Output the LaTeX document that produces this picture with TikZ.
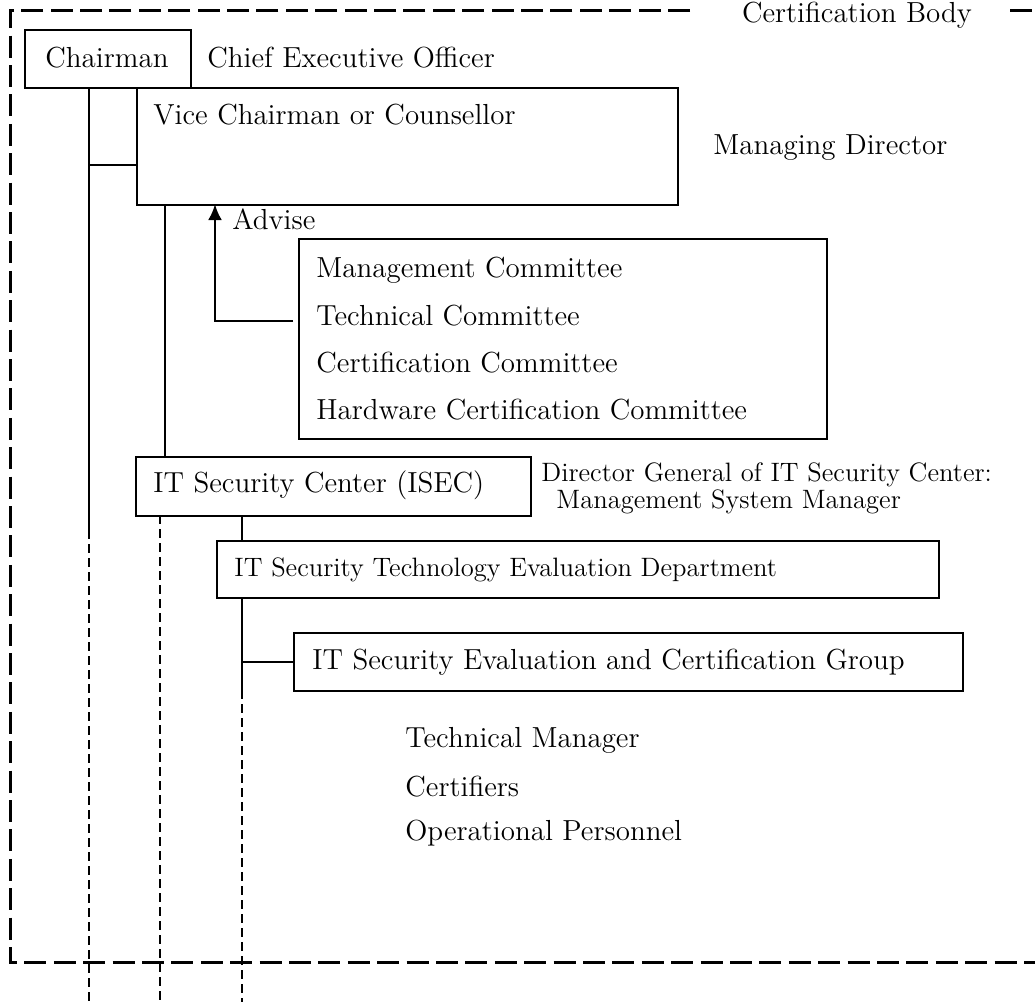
\documentclass[tikz,border=0pt]{standalone}
\usetikzlibrary{arrows.meta}
\begin{document}
\begin{tikzpicture}[x=0.5pt,y=-0.5pt,
  box/.style={draw,line width=1pt,anchor=north west,inner sep=0pt},
  txt/.style={anchor=west,inner sep=0pt,font=\fontsize{14.5}{16}\selectfont},
  smalltxt/.style={anchor=west,inner sep=0pt,font=\fontsize{13.3}{14}\selectfont},
  conn/.style={line width=1pt},
  vdash/.style={line width=1pt,dash pattern=on 4.5pt off 2.5pt},
  border/.style={line width=1.5pt,dash pattern=on 11pt off 3.7pt}]
\useasboundingbox (0,0) rectangle (1035,1002);
% border
\coordinate (b1) at (690,10);
\coordinate (b2) at (10,10);
\coordinate (b3) at (10,962);
\coordinate (b4) at (1035,962);
\coordinate (b5) at (1010,10);
\coordinate (b6) at (1035,10);
\draw[border] (b1) -- (b2) -- (b3) -- (b4);
\draw[border] (b5) -- (b6);
\node[txt,anchor=center] (certbody) at (857,15) {Certification Body};
% boxes
\node[box,minimum width=83pt,minimum height=29pt] (chair) at (24,29) {};
\node[txt,anchor=center] (chairt) at (107,58) {Chairman};
\node[txt] (ceo) at (207,58) {Chief Executive Officer};
\node[box,minimum width=270.5pt,minimum height=58.5pt] (vice) at (136,87) {};
\node[txt] (vicet) at (153,115) {Vice Chairman or Counsellor};
\node[txt] (md) at (713,148) {Managing Director};
\node[box,minimum width=264pt,minimum height=100pt] (comm) at (298,238) {};
\node[txt] (c1) at (316,270) {Management Committee};
\node[txt] (c2) at (316,316) {Technical Committee};
\node[txt] (c3) at (316,363) {Certification Committee};
\node[txt] (c4) at (316,410) {Hardware Certification Committee};
\node[box,minimum width=197.5pt,minimum height=29.5pt] (isec) at (135,456) {};
\node[txt] (isect) at (153,485) {IT Security Center (ISEC)};
\node[smalltxt] (dg) at (541,475) {Director General of IT Security Center:};
\node[smalltxt] (msm) at (556,502) {Management System Manager};
\node[box,minimum width=361pt,minimum height=28.5pt] (dept) at (216,540) {};
\node[smalltxt] (deptt) at (234,570) {IT Security Technology Evaluation Department};
\node[box,minimum width=334.5pt,minimum height=29pt] (grp) at (293,632) {};
\node[txt] (grpt) at (312,662) {IT Security Evaluation and Certification Group};
\node[txt] (tm) at (405,740) {Technical Manager};
\node[txt] (cert) at (405,787) {Certifiers};
\node[txt] (op) at (405,833) {Operational Personnel};
% connector coordinates
\coordinate (p1) at (89,87);
\coordinate (p2) at (89,165);
\coordinate (p3) at (136,165);
\coordinate (p4) at (89,530);
\coordinate (p5) at (89,1002);
\coordinate (q1) at (165,204);
\coordinate (q2) at (165,456);
\coordinate (r1) at (293,321);
\coordinate (r2) at (215,321);
\coordinate (r3) at (215,204);
\coordinate (s1) at (160,515);
\coordinate (s2) at (160,1002);
\coordinate (t1) at (242,515);
\coordinate (t2) at (242,540);
\coordinate (u1) at (242,597);
\coordinate (u2) at (242,662);
\coordinate (u3) at (293,662);
\coordinate (u4) at (242,690);
\coordinate (u5) at (242,1002);
% connectors
\draw[conn] (p1) -- (p4);
\draw[conn] (p2) -- (p3);
\draw[vdash] (p4) -- (p5);
\draw[conn] (q1) -- (q2);
\draw[line width=1.4pt,-{Latex[length=8pt,width=7pt]}] (r1) -- (r2) -- (r3);
\node[txt] (adv) at (232,219) {Advise};
\draw[vdash] (s1) -- (s2);
\draw[conn] (t1) -- (t2);
\draw[conn] (u1) -- (u4);
\draw[conn] (u2) -- (u3);
\draw[vdash] (u4) -- (u5);
\end{tikzpicture}
\end{document}
